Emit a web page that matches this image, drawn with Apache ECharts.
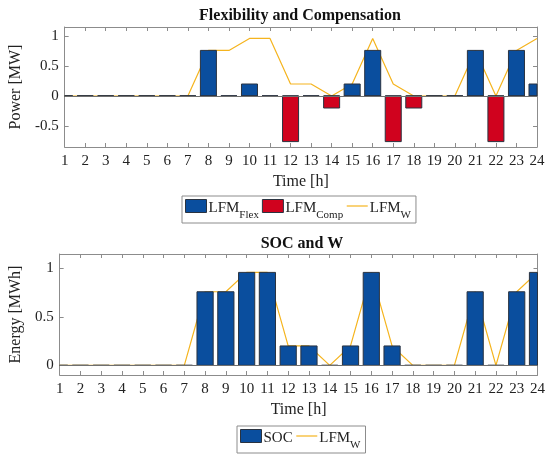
<!DOCTYPE html>
<html><head><meta charset="utf-8">
<script src="https://cdn.jsdelivr.net/npm/echarts@6/dist/echarts.min.js"></script>
<style>html,body{margin:0;padding:0;background:#fff}#c{width:550px;height:457px}</style>
</head><body><div id="c"></div>
<script>
const hours = [1,2,3,4,5,6,7,8,9,10,11,12,13,14,15,16,17,18,19,20,21,22,23,24];
const lfmFlex = [0,0,0,0,0,0,0,0.76,0,0.2,0,0,0,0,0.2,0.76,0,0,0,0,0.76,0,0.76,0.2];
const lfmComp = [0,0,0,0,0,0,0,0,0,0,0,-0.76,0,-0.2,0,0,-0.76,-0.2,0,0,0,-0.76,0,0];
const lfmW = [0,0,0,0,0,0,0,0.76,0.76,0.96,0.96,0.2,0.2,0,0.2,0.96,0.2,0,0,0,0.76,0,0.76,0.96];
const soc = [0,0,0,0,0,0,0,0.76,0.76,0.96,0.96,0.2,0.2,0,0.2,0.96,0.2,0,0,0,0.76,0,0.76,0.96];
const yTicksTop = [-0.5,0,0.5,1];
const yTicksBot = [0,0.5,1];

const pairs = a => hours.map((h,i)=>[h,a[i]]);
const FONT = 'Liberation Serif';
const BLUE = '#0A4E9E', RED = '#D0021E', ORANGE = '#F5B41E', EDGE = '#2a3340', BOX = '#8c8c8c';
const BAR_W = 0.78;

function renderBar(params, api){
  const x = api.value(0), y = api.value(1);
  const p0 = api.coord([x, 0]);
  const p1 = api.coord([x, y]);
  const w = api.size([BAR_W, 0])[0];
  const rect = echarts.graphic.clipRectByRect(
    {x: p0[0] - w/2, y: Math.min(p0[1], p1[1]), width: w, height: Math.abs(p1[1] - p0[1])},
    {x: params.coordSys.x, y: params.coordSys.y, width: params.coordSys.width, height: params.coordSys.height});
  if (!rect) return null;
  return {type:'rect', shape: rect, style: {fill: api.visual('color'), stroke: EDGE, lineWidth: 1}};
}

function xAxes(gi){
  return [
    {gridIndex:gi,type:'value',min:1,max:24,interval:1,
     name:'Time [h]',nameLocation:'middle',nameGap:27,
     nameTextStyle:{fontFamily:FONT,fontSize:16,color:'#222'},
     axisLine:{show:true,onZero:false,lineStyle:{color:BOX}},
     axisTick:{show:true,inside:true,length:4,lineStyle:{color:BOX}},
     axisLabel:{fontFamily:FONT,fontSize:15,color:'#222',margin:7},
     splitLine:{show:false}},
    {gridIndex:gi,type:'value',position:'top',min:1,max:24,interval:1,
     axisLine:{show:true,onZero:false,lineStyle:{color:BOX}},
     axisTick:{show:true,inside:true,length:4,lineStyle:{color:BOX}},
     axisLabel:{show:false},splitLine:{show:false}}
  ];
}
function yAxes(gi,min,max,ticks,name,gap){
  return [
    {gridIndex:gi,type:'value',min:min,max:max,
     name:name,nameLocation:'middle',nameGap:gap,
     nameTextStyle:{fontFamily:FONT,fontSize:16,color:'#222'},
     axisLine:{show:true,onZero:false,lineStyle:{color:BOX}},
     axisTick:{show:true,inside:true,length:4,customValues:ticks,lineStyle:{color:BOX}},
     axisLabel:{fontFamily:FONT,fontSize:15,color:'#222',margin:6,customValues:ticks},
     splitLine:{show:false}},
    {gridIndex:gi,type:'value',position:'right',min:min,max:max,
     axisLine:{show:true,onZero:false,lineStyle:{color:BOX}},
     axisTick:{show:true,inside:true,length:4,customValues:ticks,lineStyle:{color:BOX}},
     axisLabel:{show:false},splitLine:{show:false}}
  ];
}
const rich = {
  m:{fontFamily:FONT,fontSize:15,color:'#222',lineHeight:20,verticalAlign:'bottom'},
  s:{fontFamily:FONT,fontSize:11,color:'#222',lineHeight:20,verticalAlign:'bottom',padding:[0,0,-5,0]}
};
const legendFmt = n => ({'Flex':'{m|LFM}{s|Flex}','Comp':'{m|LFM}{s|Comp}','W':'{m|LFM}{s|W}','W ':'{m|LFM}{s|W}','SOC':'{m|SOC}'}[n]);
const zeroLine = {silent:true,symbol:'none',label:{show:false},lineStyle:{color:'#6f6f6f',width:1,type:'solid'},data:[{yAxis:0}]};
const lineItem = n => ({name:n,itemStyle:{opacity:0},lineStyle:{color:ORANGE,width:1.2}});
const barItem = (n,c) => ({name:n,icon:'rect',itemStyle:{color:c,borderColor:EDGE,borderWidth:1}});

const option = {
  animation:false,
  backgroundColor:'#fff',
  title:[
    {text:'Flexibility and Compensation',left:295,top:3,textAlign:'center',textStyle:{fontFamily:FONT,fontSize:16,fontWeight:'bold',color:'#111'}},
    {text:'SOC and W',left:297,top:231,textAlign:'center',textStyle:{fontFamily:FONT,fontSize:16,fontWeight:'bold',color:'#111'}}
  ],
  grid:[
    {left:54,right:13,top:27,height:120},
    {left:57,right:12.5,top:254,height:121}
  ],
  xAxis:[...xAxes(0),...xAxes(1)],
  yAxis:[...yAxes(0,-0.85,1.15,yTicksTop,'Power [MW]',36),...yAxes(1,-0.1,1.15,yTicksBot,'Energy [MWh]',31)],
  legend:[
    {data:[barItem('Flex',BLUE),barItem('Comp',RED),lineItem('W')],left:182,top:196,
     itemWidth:21,itemHeight:13,itemGap:3,padding:[3,5,2,3],
     borderColor:BOX,borderWidth:1,formatter:legendFmt,textStyle:{rich:rich,padding:[0,0,0,-3]}},
    {data:[barItem('SOC',BLUE),lineItem('W ')],left:237,top:426,
     itemWidth:21,itemHeight:13,itemGap:3,padding:[3,5,2,3],
     borderColor:BOX,borderWidth:1,formatter:legendFmt,textStyle:{rich:rich,padding:[0,0,0,-3]}}
  ],
  series:[
    {name:'W',type:'line',xAxisIndex:0,yAxisIndex:0,data:pairs(lfmW),symbol:'none',clip:true,
     lineStyle:{color:ORANGE,width:1.2},itemStyle:{color:ORANGE},z:1,markLine:zeroLine},
    {name:'Flex',type:'custom',xAxisIndex:0,yAxisIndex:0,data:pairs(lfmFlex),renderItem:renderBar,
     encode:{x:0,y:1},itemStyle:{color:BLUE},z:2},
    {name:'Comp',type:'custom',xAxisIndex:0,yAxisIndex:0,data:pairs(lfmComp),renderItem:renderBar,
     encode:{x:0,y:1},itemStyle:{color:RED},z:2},
    {name:'SOC',type:'custom',xAxisIndex:2,yAxisIndex:2,data:pairs(soc),renderItem:renderBar,
     encode:{x:0,y:1},itemStyle:{color:BLUE},z:2},
    {name:'W ',type:'line',xAxisIndex:2,yAxisIndex:2,data:pairs(lfmW),symbol:'none',clip:true,
     lineStyle:{color:ORANGE,width:1.2},itemStyle:{color:ORANGE},z:1,markLine:zeroLine}
  ]
};
const chart = echarts.init(document.getElementById('c'),null,{renderer:'canvas'});
chart.setOption(option);
</script></body></html>
